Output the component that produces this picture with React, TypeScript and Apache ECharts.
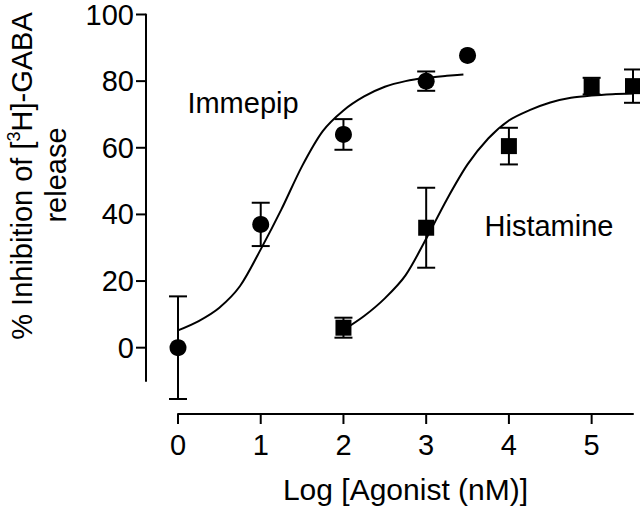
import React, { useEffect, useRef } from "react";
import * as echarts from "echarts";

// Measured points (log nM, % inhibition, SEM)
const immepipX = [0, 1, 2, 3, 3.5];
const immepipY = [0, 37, 64, 80, 87.7];
const immepipErr = [15.4, 6.5, 4.6, 2.9, 0];

const histamineX = [2, 3, 4, 5, 5.5];
const histamineY = [6, 36, 60.5, 78.5, 78.5];
const histamineErr = [3, 12, 5.5, 2.5, 5];

// Fitted curves
const immepipFitX = [0, 0.25, 0.5, 0.75, 1, 1.25, 1.5, 1.75, 2, 2.25, 2.5, 2.75, 3, 3.25, 3.45];
const immepipFitY = [5.2, 8, 12, 18.5, 29.5, 41.5, 54.5, 65, 71.2, 75.4, 78.3, 80, 81, 81.6, 82];

const histamineFitX = [2, 2.25, 2.5, 2.75, 3, 3.25, 3.5, 3.75, 4, 4.25, 4.5, 4.75, 5, 5.25, 5.5];
const histamineFitY = [5.3, 9.5, 14.8, 21.7, 32.7, 44.5, 55, 62.8, 68.2, 71.3, 73.6, 75, 75.7, 76.1, 76.3];

const xTicks = [0, 1, 2, 3, 4, 5];
const yTicks = [0, 20, 40, 60, 80, 100];

const X_MIN = 0;
const X_MAX = 5.5;
const Y_MIN = -10;
const Y_MAX = 100;

const FONT = "Liberation Sans, Arial, Helvetica, sans-serif";
const X_OFFSET = 33;
const Y_OFFSET = 32;
const TICK = 10;

export default function App() {
  const ref = useRef<HTMLDivElement>(null);

  useEffect(() => {
    if (!ref.current) return;
    const chart = echarts.init(ref.current, null, { renderer: "svg" });

    const zip = (xs: number[], ys: number[]) => xs.map((x, i) => [x, ys[i]]);
    const zip3 = (xs: number[], ys: number[], es: number[]) =>
      xs.map((x, i) => [x, ys[i], es[i]]).filter((d) => d[2] > 0);

    const st = { stroke: "#000", lineWidth: 2 };

    const errRender = (params: any, api: any) => {
      const x = api.value(0);
      const y = api.value(1);
      const e = api.value(2);
      const top = api.coord([x, y + e]);
      const bot = api.coord([x, y - e]);
      const half = 9;
      return {
        type: "group",
        children: [
          { type: "line", shape: { x1: top[0], y1: top[1], x2: bot[0], y2: bot[1] }, style: st },
          { type: "line", shape: { x1: top[0] - half, y1: top[1], x2: top[0] + half, y2: top[1] }, style: st },
          { type: "line", shape: { x1: bot[0] - half, y1: bot[1], x2: bot[0] + half, y2: bot[1] }, style: st },
        ],
      };
    };

    const xTickRender = (params: any, api: any) => {
      const p = api.coord([api.value(0), Y_MIN]);
      const y0 = p[1] + X_OFFSET;
      return { type: "line", shape: { x1: p[0], y1: y0, x2: p[0], y2: y0 + TICK }, style: st };
    };
    const yTickRender = (params: any, api: any) => {
      const p = api.coord([X_MIN, api.value(1)]);
      const x0 = p[0] - Y_OFFSET;
      return { type: "line", shape: { x1: x0 - TICK, y1: p[1], x2: x0, y2: p[1] }, style: st };
    };

    const option: any = {
      animation: false,
      backgroundColor: "#fff",
      grid: { left: 178, right: 7, top: 13, bottom: 130 },
      xAxis: {
        type: "value",
        min: X_MIN,
        max: X_MAX,
        offset: X_OFFSET,
        axisLine: { show: true, onZero: false, lineStyle: { color: "#000", width: 2 } },
        axisTick: { show: false },
        axisLabel: { customValues: xTicks, fontSize: 29, color: "#000", fontFamily: FONT, margin: 16 },
        splitLine: { show: false },
        name: "Log [Agonist (nM)]",
        nameLocation: "middle",
        nameGap: 60,
        nameTextStyle: { fontSize: 30, color: "#000", fontFamily: FONT },
      },
      yAxis: {
        type: "value",
        min: Y_MIN,
        max: Y_MAX,
        offset: Y_OFFSET,
        axisLine: { show: true, onZero: false, lineStyle: { color: "#000", width: 2 } },
        axisTick: { show: false },
        axisLabel: { customValues: yTicks, fontSize: 29, color: "#000", fontFamily: FONT, margin: 12 },
        splitLine: { show: false },
      },
      graphic: [
        {
          type: "text",
          x: 22,
          y: 176,
          rotation: Math.PI / 2,
          style: {
            text: "{a|% Inhibition of [}{s|3}{a|H]-GABA}",
            align: "center",
            verticalAlign: "middle",
            fill: "#000",
            rich: {
              a: { fontSize: 29, fontFamily: FONT, fill: "#000", lineHeight: 34 },
              s: { fontSize: 18, fontFamily: FONT, fill: "#000", verticalAlign: "top", lineHeight: 24 },
            },
          },
        },
        {
          type: "text",
          x: 56,
          y: 175,
          rotation: Math.PI / 2,
          style: {
            text: "release",
            align: "center",
            verticalAlign: "middle",
            fill: "#000",
            fontSize: 29,
            fontFamily: FONT,
          },
        },
        {
          type: "text",
          x: 243,
          y: 103,
          style: { text: "Immepip", align: "center", verticalAlign: "middle", fill: "#000", fontSize: 29, fontFamily: FONT },
        },
        {
          type: "text",
          x: 549,
          y: 226,
          style: { text: "Histamine", align: "center", verticalAlign: "middle", fill: "#000", fontSize: 29, fontFamily: FONT },
        },
      ],
      series: [
        {
          type: "custom",
          renderItem: xTickRender,
          data: xTicks.map((v) => [v, Y_MIN]),
          clip: false,
          silent: true,
        },
        {
          type: "custom",
          renderItem: yTickRender,
          data: yTicks.map((v) => [X_MIN, v]),
          clip: false,
          silent: true,
        },
        {
          type: "line",
          data: zip(immepipFitX, immepipFitY),
          smooth: 0.3,
          showSymbol: false,
          lineStyle: { color: "#000", width: 2 },
          clip: false,
        },
        {
          type: "line",
          data: zip(histamineFitX, histamineFitY),
          smooth: 0.3,
          showSymbol: false,
          lineStyle: { color: "#000", width: 2 },
          clip: false,
        },
        {
          type: "custom",
          renderItem: errRender,
          data: zip3(immepipX, immepipY, immepipErr),
          clip: false,
        },
        {
          type: "custom",
          renderItem: errRender,
          data: zip3(histamineX, histamineY, histamineErr),
          clip: false,
        },
        {
          type: "scatter",
          data: zip(immepipX, immepipY),
          symbol: "circle",
          symbolSize: 17,
          itemStyle: { color: "#000", opacity: 1 },
          clip: false,
        },
        {
          type: "scatter",
          data: zip(histamineX, histamineY),
          symbol: "rect",
          symbolSize: 16,
          itemStyle: { color: "#000", opacity: 1 },
          clip: false,
        },
      ],
    };

    chart.setOption(option);
    return () => chart.dispose();
  }, []);

  return (
    <div
      ref={ref}
      style={{ position: "fixed", left: 0, top: 0, width: 640, height: 511, background: "#fff" }}
    />
  );
}
